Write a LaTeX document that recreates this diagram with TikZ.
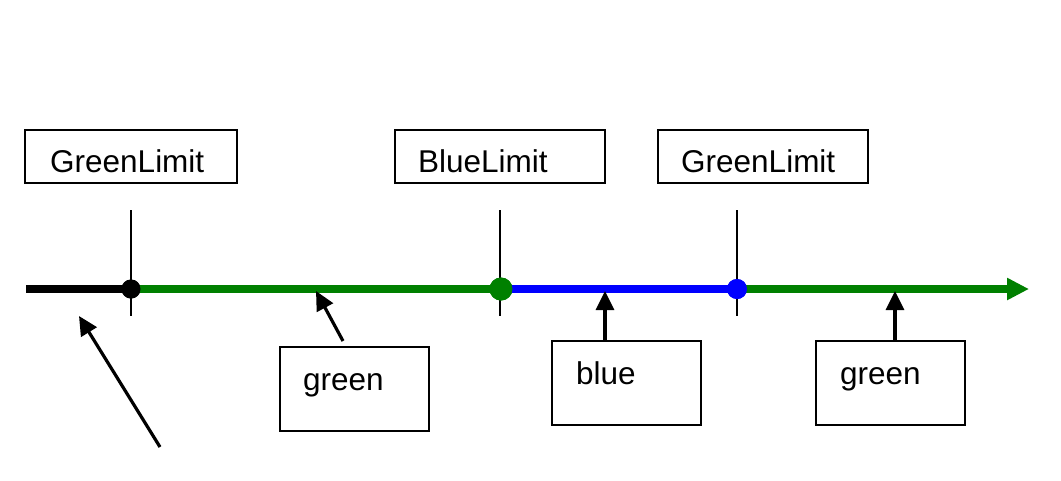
\documentclass[tikz,border=0pt]{standalone}
\usepackage{fontspec}
\setmainfont{Liberation Sans}
\usetikzlibrary{arrows.meta}
\definecolor{dgreen}{RGB}{0,128,0}
\definecolor{pblue}{RGB}{0,0,255}
\begin{document}
\begin{tikzpicture}[x=1pt,y=-1pt,
  box/.style={draw=black,line width=1.5pt,minimum width=#1,inner sep=0pt},
  lbl/.style={anchor=base west,inner sep=0pt,font=\fontsize{31.5}{38}\selectfont},
  tick/.style={line width=1.6pt,black},
  axis/.style={line width=7.5pt},
  dot/.style={circle,fill=#1,inner sep=0pt},
  ptr/.style={line width=3.2pt,-{Triangle[length=19pt,width=18pt]}}]
\useasboundingbox (0,0) rectangle (1061,480);
% boxes
\node[box=212pt,minimum height=53pt] (gl1) at (131,156.5) {};
\node[box=210pt,minimum height=53pt] (bl) at (500,156.5) {};
\node[box=210pt,minimum height=53pt] (gl2) at (763,156.5) {};
\node[box=149pt,minimum height=84pt] (gb1) at (354.5,389) {};
\node[box=149pt,minimum height=84pt] (bb) at (626.5,383) {};
\node[box=149pt,minimum height=84pt] (gb2) at (890.5,383) {};
% labels
\node[lbl] (tgl1) at (50,172) {GreenLimit};
\node[lbl] (tbl) at (418,172) {BlueLimit};
\node[lbl] (tgl2) at (681,172) {GreenLimit};
\node[lbl] (tgb1) at (303,390) {green};
\node[lbl] (tbb) at (576,384) {blue};
\node[lbl] (tgb2) at (840,384) {green};
% ticks
\coordinate (t1a) at (131,210); \coordinate (t1b) at (131,316);
\coordinate (t2a) at (500,210); \coordinate (t2b) at (500,316);
\coordinate (t3a) at (737,210); \coordinate (t3b) at (737,316);
\draw[tick] (t1a) -- (t1b);
\draw[tick] (t2a) -- (t2b);
\draw[tick] (t3a) -- (t3b);
% axis
\coordinate (s) at (26,289);
\coordinate (e) at (1029,289);
\node[dot=black,minimum size=19pt] (d1) at (131,289) {};
\node[dot=dgreen,minimum size=23pt] (d2) at (501,289) {};
\node[dot=pblue,minimum size=20pt] (d3) at (737,289) {};
\draw[axis,black] (s) -- (d1.center);
\draw[axis,dgreen] (d1.center) -- (d2.center);
\draw[axis,pblue] (d2.center) -- (d3.center);
\draw[axis,dgreen,-{Triangle[length=22pt,width=21pt]}] (d3.center) -- (e);
\node[dot=black,minimum size=19pt] at (d1) {};
\node[dot=dgreen,minimum size=23pt] at (d2) {};
\node[dot=pblue,minimum size=20pt] at (d3) {};
% pointers
\coordinate (p0s) at (160,447); \coordinate (p0e) at (79,316);
\coordinate (p1s) at (343,341); \coordinate (p1e) at (316,291);
\coordinate (p2s) at (605,341); \coordinate (p2e) at (605,291);
\coordinate (p3s) at (895,341); \coordinate (p3e) at (895,291);
\draw[ptr] (p0s) -- (p0e);
\draw[ptr] (p1s) -- (p1e);
\draw[ptr] (p2s) -- (p2e);
\draw[ptr] (p3s) -- (p3e);
\end{tikzpicture}
\end{document}
